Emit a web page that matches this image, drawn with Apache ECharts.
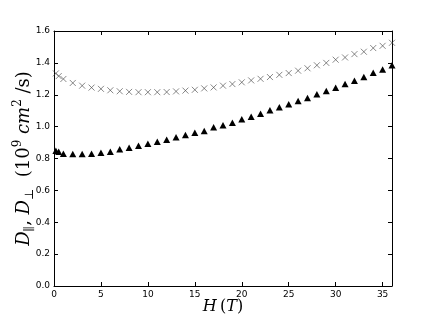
<!DOCTYPE html>
<html><head><meta charset="utf-8">
<script src="https://cdn.jsdelivr.net/npm/echarts@6/dist/echarts.min.js"></script>
<style>html,body{margin:0;padding:0;background:#fff}#c{width:436px;height:319px}</style>
</head><body><div id="c"></div>
<script>
const hValues = [0.2, 0.5, 1, 2, 3, 4, 5, 6, 7, 8, 9, 10, 11, 12, 13, 14, 15, 16, 17, 18, 19, 20, 21, 22, 23, 24, 25, 26, 27, 28, 29, 30, 31, 32, 33, 34, 35, 36];
const dParallel = [1.334, 1.317, 1.299, 1.274, 1.257, 1.245, 1.237, 1.228, 1.222, 1.218, 1.216, 1.216, 1.216, 1.217, 1.221, 1.226, 1.231, 1.240, 1.246, 1.257, 1.267, 1.278, 1.290, 1.300, 1.311, 1.325, 1.336, 1.351, 1.366, 1.385, 1.400, 1.420, 1.434, 1.455, 1.470, 1.493, 1.507, 1.526];
const dPerp = [0.849, 0.843, 0.830, 0.828, 0.828, 0.830, 0.836, 0.843, 0.858, 0.868, 0.880, 0.893, 0.905, 0.918, 0.933, 0.947, 0.962, 0.972, 0.996, 1.008, 1.025, 1.046, 1.062, 1.081, 1.102, 1.121, 1.140, 1.161, 1.179, 1.203, 1.223, 1.244, 1.267, 1.288, 1.311, 1.338, 1.359, 1.385];
const xTicks = [0, 5, 10, 15, 20, 25, 30, 35];
const yTickStep = 0.2;

const chart = echarts.init(document.getElementById('c'), null, {renderer: 'canvas'});
const mathFont = '"DejaVu Serif", "Liberation Serif", serif';
const tickFont = '"DejaVu Sans", sans-serif';
const axisLineStyle = {color: '#000', width: 1};
const xBase = {
  type: 'value', min: 0, max: 36, interval: 5,
  splitLine: {show: false},
  axisLine: {show: true, onZero: false, lineStyle: axisLineStyle},
  axisTick: {show: true, inside: true, length: 4, lineStyle: {color: '#000'}}
};
const yBase = {
  type: 'value', min: 0, max: 1.6, interval: yTickStep,
  splitLine: {show: false},
  axisLine: {show: true, onZero: false, lineStyle: axisLineStyle},
  axisTick: {show: true, inside: true, length: 4, lineStyle: {color: '#000'}}
};
const option = {
  animation: false,
  backgroundColor: '#fff',
  grid: {left: 54, right: 44, top: 31, bottom: 33, containLabel: false, outerBoundsMode: 'none'},
  xAxis: [
    Object.assign({}, xBase, {
      position: 'bottom',
      axisLabel: {show: true, color: '#000', fontSize: 9, fontFamily: tickFont, margin: 4,
        customValues: xTicks, formatter: v => String(v)},
      name: '{i|H} {n|(}{i|T}{n|)}', nameLocation: 'middle', nameGap: 13, nameMoveOverlap: false,
      nameTextStyle: {rich: {
        i: {fontFamily: mathFont, fontStyle: 'italic', fontSize: 16, color: '#000'},
        n: {fontFamily: mathFont, fontSize: 16, color: '#000'}
      }}
    }),
    Object.assign({}, xBase, {position: 'top', axisLabel: {show: false}})
  ],
  yAxis: [
    Object.assign({}, yBase, {
      position: 'left',
      axisLabel: {show: true, color: '#000', fontSize: 9, fontFamily: tickFont, margin: 4,
        formatter: v => v.toFixed(1)},
      name: '{i|D}{sub|∥}{n|, }{i|D}{sub|⊥}{n|  (10}{sup|9}{i| cm}{sup|2}{n| /s)}',
      nameLocation: 'middle', nameGap: 18, nameRotate: 90, nameMoveOverlap: false,
      nameTextStyle: {lineHeight: 24, rich: {
        i: {fontFamily: mathFont, fontStyle: 'italic', fontSize: 18, color: '#000', lineHeight: 24},
        n: {fontFamily: mathFont, fontSize: 18, color: '#000', lineHeight: 24},
        sub: {fontFamily: mathFont, fontSize: 12, color: '#000', verticalAlign: 'bottom', lineHeight: 24},
        sup: {fontFamily: mathFont, fontSize: 12, color: '#000', verticalAlign: 'top', lineHeight: 24}
      }}
    }),
    Object.assign({}, yBase, {position: 'right', axisLabel: {show: false}})
  ],
  series: [
    {
      type: 'scatter', name: 'parallel', xAxisIndex: 0, yAxisIndex: 0,
      data: hValues.map((h, i) => [h, dParallel[i]]),
      symbol: 'path://M0,0L10,10M10,0L0,10', symbolSize: 6,
      itemStyle: {color: 'none', borderColor: '#444', borderWidth: 0.8},
      clip: false
    },
    {
      type: 'scatter', name: 'perp', xAxisIndex: 0, yAxisIndex: 0,
      data: hValues.map((h, i) => [h, dPerp[i]]),
      symbol: 'triangle', symbolSize: [7, 6.5],
      itemStyle: {color: '#000', opacity: 1},
      clip: false
    }
  ]
};
chart.setOption(option);
</script></body></html>
